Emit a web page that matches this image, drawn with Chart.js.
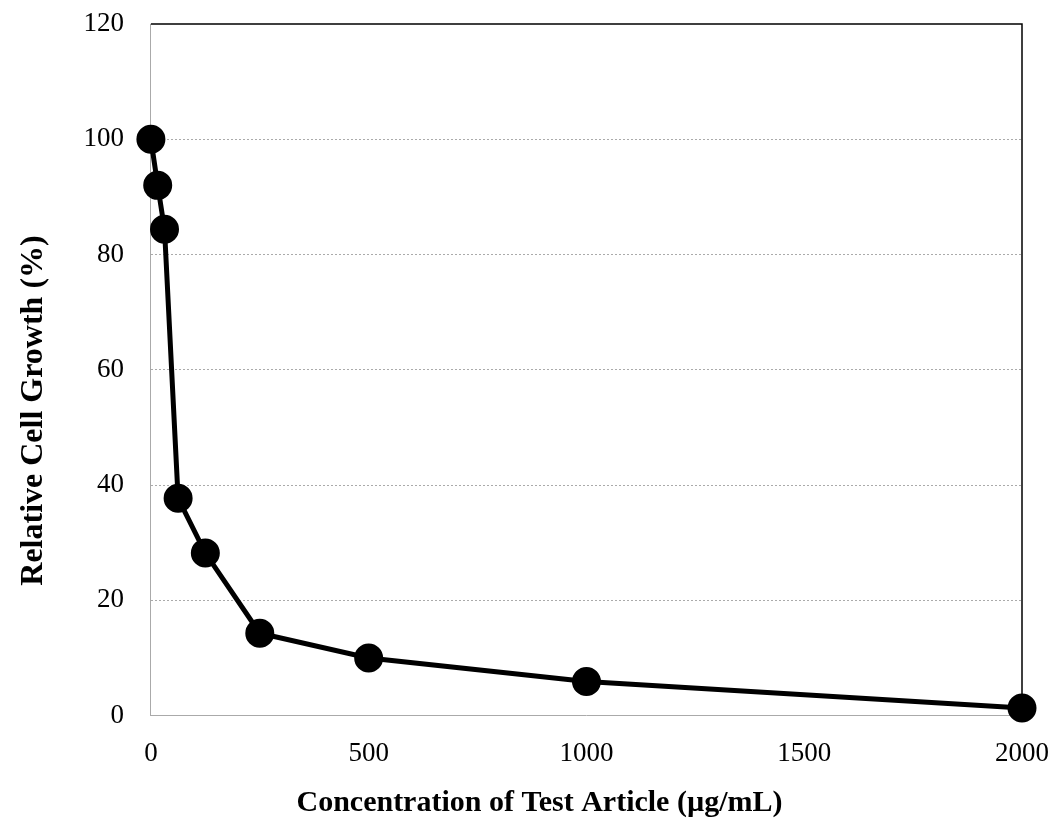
<!DOCTYPE html>
<html>
<head>
<meta charset="utf-8">
<script src="https://cdn.jsdelivr.net/npm/chart.js@4/dist/chart.umd.min.js"></script>
<style>
html,body{margin:0;padding:0;background:#fff;}
#wrap{width:1064px;height:826px;position:relative;}
</style>
</head>
<body>
<div id="wrap"><canvas id="c" width="1064" height="826"></canvas></div>
<script>
const concentrations = [0, 15.625, 31.25, 62.5, 125, 250, 500, 1000, 2000];
const growth = [100, 92.0, 84.4, 37.7, 28.2, 14.3, 10.0, 5.9, 1.3];
const xTitle = 'Concentration of Test Article (µg/mL)';
const yTitle = 'Relative Cell Growth (%)';
const xMin = 0, xMax = 2000, xStep = 500;
const yMin = 0, yMax = 120, yStep = 20;

const frame = {
  id: 'frame',
  afterDraw(chart) {
    const {ctx, chartArea: a} = chart;
    ctx.save();
    ctx.strokeStyle = '#000';
    ctx.lineWidth = 1.5;
    ctx.beginPath();
    ctx.moveTo(a.left, a.top);
    ctx.lineTo(a.right, a.top);
    ctx.lineTo(a.right, a.bottom);
    ctx.stroke();
    ctx.restore();
  }
};

new Chart(document.getElementById('c'), {
  type: 'scatter',
  data: {
    datasets: [{
      data: concentrations.map((x, i) => ({x: x, y: growth[i]})),
      showLine: true,
      borderColor: '#000',
      backgroundColor: '#000',
      borderWidth: 5,
      pointRadius: 12,
      pointHoverRadius: 12,
      pointBorderColor: '#000',
      pointBackgroundColor: '#000',
      clip: false
    }]
  },
  options: {
    responsive: false,
    animation: false,
    layout: {padding: {top: 0, right: 0, left: 15, bottom: 5}},
    plugins: {
      legend: {display: false},
      tooltip: {enabled: false},
      title: {display: true, position: 'bottom', text: xTitle, color: '#000',
        padding: {top: -7, bottom: 0},
        font: {family: 'Liberation Serif', size: 30, weight: 'bold'}},
      subtitle: {display: true, position: 'left', text: yTitle, color: '#000',
        padding: {top: 0, bottom: 3},
        font: {family: 'Liberation Serif', size: 32, weight: 'bold'}}
    },
    scales: {
      x: {
        type: 'linear', min: xMin, max: xMax,
        afterFit: (s) => { s.paddingRight = 42; },
        ticks: {stepSize: xStep, color: '#000', padding: 22,
          callback: (v) => String(v),
          font: {family: 'Liberation Serif', size: 27}},
        grid: {display: false, drawTicks: false},
        border: {display: true, color: '#aaa', width: 1, dash: [2, 2]}
      },
      y: {
        type: 'linear', min: yMin, max: yMax,
        afterFit: (s) => { s.paddingTop = 24; },
        ticks: {stepSize: yStep, color: '#000', padding: 27,
          callback: (v) => String(v),
          font: {family: 'Liberation Serif', size: 27}},
        grid: {drawTicks: false, lineWidth: 1,
          color: (c) => (c.tick && (c.tick.value === yMax || c.tick.value === yMin)) ? 'rgba(0,0,0,0)' : '#aaa'},
        border: {display: true, color: '#aaa', width: 1, dash: [2, 2]}
      }
    }
  },
  plugins: [frame]
});
</script>
</body>
</html>
